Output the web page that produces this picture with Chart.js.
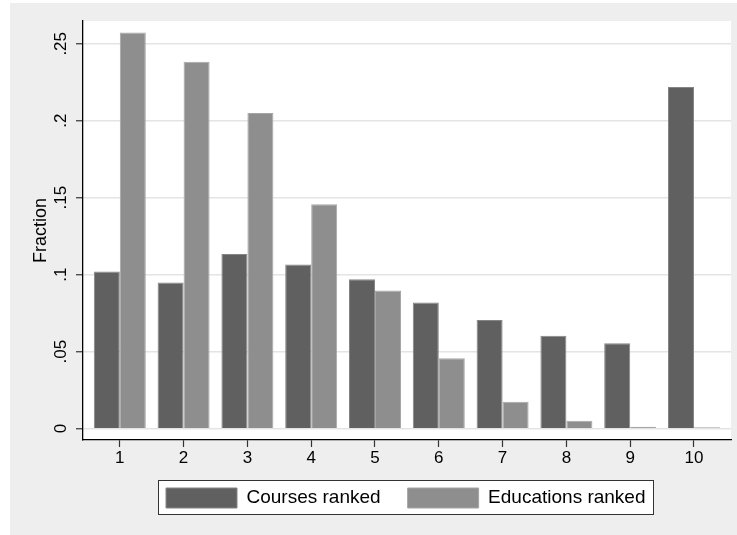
<!DOCTYPE html>
<html>
<head>
<meta charset="utf-8">
<script src="https://cdn.jsdelivr.net/npm/chart.js@4"></script>
<style>
  html, body { margin: 0; padding: 0; background: #ffffff; }
  canvas { display: block; }
</style>
</head>
<body>
<canvas id="c" width="737" height="535"></canvas>
<script>
// ---- data ----
const categories = [1, 2, 3, 4, 5, 6, 7, 8, 9, 10];
const coursesRanked = [0.102, 0.095, 0.1135, 0.1066, 0.097, 0.082, 0.0705, 0.0603, 0.0555, 0.222];
const educationsRanked = [0.2573, 0.2383, 0.2051, 0.1457, 0.0898, 0.0457, 0.0174, 0.0052, 0.0013, 0.0009];
const seriesLabels = ['Courses ranked', 'Educations ranked'];
const yTickValues = [0, 0.05, 0.1, 0.15, 0.2, 0.25];
const yTickLabels = ['0', '.05', '.1', '.15', '.2', '.25'];
const yTitle = 'Fraction';

const FONT = '"Liberation Sans", Arial, Helvetica, sans-serif';
const BG = '#eeeeee';

const backdrop = {
  id: 'backdrop',
  afterUpdate(chart) {
    const lg = chart.legend;
    if (lg && lg.legendHitBoxes && lg.legendHitBoxes.length) {
      const dx = 166 - lg.legendHitBoxes[0].left;
      const dy = 488 - lg.legendHitBoxes[0].top;
      lg.left += dx; lg.right += dx;
      lg.top += dy; lg.bottom += dy;
      lg.legendHitBoxes.forEach(h => { h.left += dx; h.top += dy; });
    }
  },
  beforeDraw(chart) {
    const ctx = chart.ctx;
    const a = chart.chartArea;
    ctx.save();
    ctx.fillStyle = '#ffffff';
    ctx.fillRect(0, 0, chart.width, chart.height);
    ctx.fillStyle = BG;
    ctx.fillRect(10, 3, chart.width - 10, chart.height - 3);
    ctx.fillStyle = '#ffffff';
    ctx.fillRect(a.left, a.top, a.right - a.left, a.bottom - a.top);
    const lg = chart.legend;
    if (lg && lg.legendHitBoxes && lg.legendHitBoxes.length) {
      const hb = lg.legendHitBoxes;
      const first = hb[0], last = hb[hb.length - 1];
      const L = Math.round(first.left - 8) + 0.5;
      const T = Math.round(first.top - 8) + 0.5;
      const R = Math.round(last.left + last.width + 7) + 0.5;
      const B = Math.round(first.top + first.height + 6) + 0.5;
      ctx.fillStyle = '#ffffff';
      ctx.fillRect(L, T, R - L, B - T);
      ctx.strokeStyle = '#333333';
      ctx.lineWidth = 1;
      ctx.strokeRect(L, T, R - L, B - T);
    }
    ctx.restore();
  }
};

new Chart(document.getElementById('c'), {
  type: 'bar',
  data: {
    datasets: [
      {
        label: seriesLabels[0],
        data: categories.map((c, i) => ({ x: c, y: coursesRanked[i] })),
        backgroundColor: '#606060',
        borderColor: '#858585',
        borderWidth: 1
      },
      {
        label: seriesLabels[1],
        data: categories.map((c, i) => ({ x: c, y: educationsRanked[i] })),
        backgroundColor: '#8e8e8e',
        borderColor: '#a6a6a6',
        borderWidth: 1
      }
    ]
  },
  options: {
    responsive: false,
    animation: false,
    devicePixelRatio: 1,
    categoryPercentage: 0.815,
    barPercentage: 1,
    layout: { padding: { left: 10, right: 6, top: 21, bottom: 10 } },
    plugins: {
      tooltip: { enabled: false },
      legend: {
        position: 'bottom',
        labels: {
          boxWidth: 71,
          boxHeight: 20,
          padding: 27,
          color: '#000000',
          font: { family: FONT, size: 19 }
        }
      }
    },
    scales: {
      x: {
        type: 'linear',
        min: 0.4232,
        max: 10.58,
        offset: false,
        afterFit(s) { s.height = 28; },
        grid: { offset: false, drawOnChartArea: false, drawTicks: true, tickLength: 7, tickColor: '#333333', tickWidth: 1.2 },
        border: { color: '#000000', width: 1.3 },
        ticks: {
          stepSize: 1,
          includeBounds: false,
          autoSkip: false,
          padding: 1,
          color: '#000000',
          font: { family: FONT, size: 17 },
          callback: (v) => String(v)
        }
      },
      y: {
        min: -0.00738,
        max: 0.2648,
        afterFit(s) { s.width = 73; },
        afterBuildTicks(s) { s.ticks = yTickValues.map(v => ({ value: v })); },
        grid: { color: '#e4e4e4', lineWidth: 1.5, drawTicks: true, tickLength: 7, tickColor: '#333333', tickWidth: 1.2 },
        border: { color: '#000000', width: 1.3 },
        title: {
          display: true,
          text: yTitle,
          color: '#000000',
          font: { family: FONT, size: 18 },
          padding: { top: 20, bottom: 0 }
        },
        ticks: {
          minRotation: 90,
          maxRotation: 90,
          crossAlign: 'center',
          padding: 3,
          includeBounds: false,
          color: '#000000',
          font: { family: FONT, size: 17 },
          callback: (v) => {
            const i = yTickValues.findIndex(t => Math.abs(t - v) < 1e-9);
            return i >= 0 ? yTickLabels[i] : '';
          }
        }
      }
    }
  },
  plugins: [backdrop]
});
</script>
</body>
</html>
